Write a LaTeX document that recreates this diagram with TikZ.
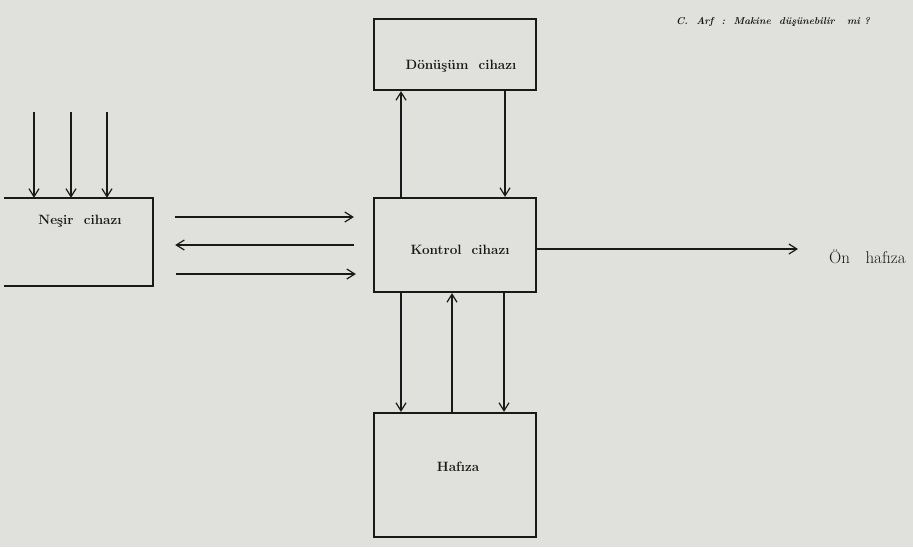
\documentclass[tikz,border=0pt]{standalone}
\usetikzlibrary{arrows.meta,calc}
\definecolor{paper}{RGB}{224,224,220}
\definecolor{ink}{RGB}{25,25,25}
\begin{document}
\begin{tikzpicture}[x=1pt,y=-1pt,
  box/.style={draw=ink,line width=2.2pt,minimum width=#1,inner sep=0pt},
  lbl/.style={text=ink,font=\bfseries\fontsize{13.5}{15}\selectfont},
  arr/.style={draw=ink,line width=1.2pt,-{Straight Barb[length=8pt,width=10pt,line width=1.2pt]}}]
\fill[paper] (0,0) rectangle (913,547);
\useasboundingbox (0,0) rectangle (913,547);
% header
\node[text=ink,font=\bfseries\itshape\fontsize{10}{12}\selectfont,anchor=west,inner sep=0pt] (hdr) at (676,22) {C.~~Arf~~:~~Makine~~düşünebilir~~~mi~?};
% boxes
\node[box=162pt,minimum height=71pt] (don) at (455,54.5) {};
\node[lbl] (donl) at (461,66) {Dönüşüm~~cihazı};
\node[box=162pt,minimum height=94pt] (kon) at (455,245) {};
\node[lbl] (konl) at (460,250) {Kontrol~~cihazı};
\node[box=162pt,minimum height=124pt] (haf) at (455,475) {};
\node[lbl] (hafl) at (458,467) {Hafıza};
\node[minimum width=149pt,minimum height=88pt,inner sep=0pt] (nes) at (78.5,242) {};
\draw[ink,line width=2.2pt] (nes.north west) -- (nes.north east) -- (nes.south east) -- (nes.south west);
\node[lbl] (nesl) at (80,221) {Neşir~~cihazı};
% inputs
\coordinate (i1) at (34,112);
\coordinate (i2) at (71,112);
\coordinate (i3) at (107,112);
\foreach \c in {i1,i2,i3} \draw[arr] (\c) -- (\c |- nes.north);
% Nesir <-> Kontrol
\draw[arr,shorten <=22pt,shorten >=19pt] (nes.east |- 0,217) -- (kon.west |- 0,217);
\draw[arr,shorten <=19pt,shorten >=22pt] (kon.west |- 0,245) -- (nes.east |- 0,245);
\draw[arr,shorten <=23pt,shorten >=17pt] (nes.east |- 0,274) -- (kon.west |- 0,274);
% Kontrol <-> Donusum
\draw[arr] (kon.north -| 401,0) -- (don.south -| 401,0);
\draw[arr] (don.south -| 505,0) -- (kon.north -| 505,0);
% Kontrol <-> Hafiza
\draw[arr] (kon.south -| 401,0) -- (haf.north -| 401,0);
\draw[arr] (haf.north -| 452,0) -- (kon.south -| 452,0);
\draw[arr] (kon.south -| 504,0) -- (haf.north -| 504,0);
% On hafiza
\node[text=ink,font=\fontsize{17}{19}\selectfont,anchor=west,inner sep=0pt] (on) at (829,257) {Ön~~~hafıza};
\draw[arr] (kon.east |- 0,249) -- (798,249);
\end{tikzpicture}
\end{document}
